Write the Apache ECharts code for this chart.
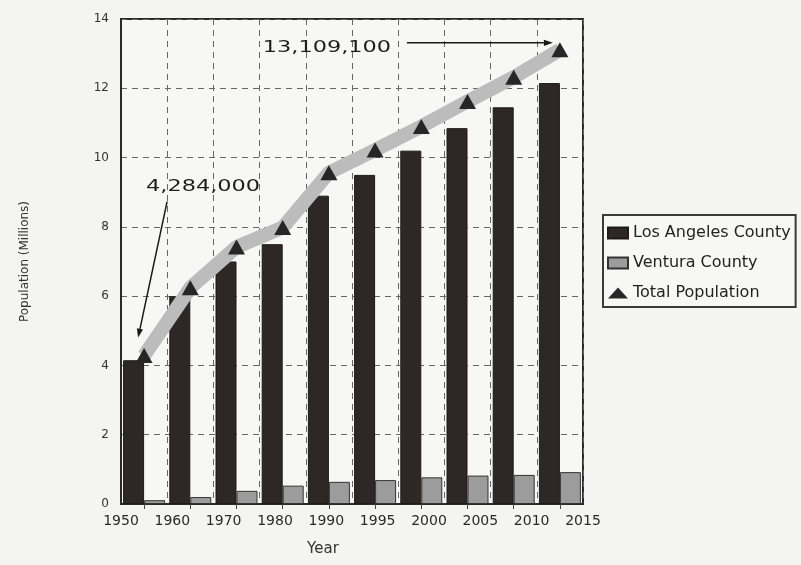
<!DOCTYPE html>
<html><head><meta charset="utf-8">
<script src="https://cdn.jsdelivr.net/npm/echarts@6/dist/echarts.min.js"></script>
<style>html,body{margin:0;padding:0;background:#f4f5f3}#c{width:801px;height:565px}</style>
</head><body><div id="c"></div><script>
const years = ['1950','1960','1970','1980','1990','1995','2000','2005','2010','2015'];
const tickLabels = ['1950','1960','1970','1980','1990','1995','2000','2005','2010','2015'];
const laCounty = [4.15, 6.0, 7.0, 7.5, 8.9, 9.5, 10.2, 10.85, 11.45, 12.15];
const venturaCounty = [0.11, 0.2, 0.38, 0.53, 0.64, 0.69, 0.77, 0.82, 0.84, 0.92];
const totalPop = [4.284, 6.24, 7.42, 7.98, 9.56, 10.22, 10.9, 11.62, 12.32, 13.1091];
const seriesNames = ['Los Angeles County', 'Ventura County', 'Total Population'];
const annotations = ['4,284,000', '13,109,100'];

const FONT = 'DejaVu Sans';
const chart = echarts.init(document.getElementById('c'), null, {renderer: 'canvas'});
const option = {
  backgroundColor: '#f4f5f3',
  animation: false,
  textStyle: {fontFamily: FONT},
  grid: {left: 121, right: 218, top: 19, bottom: 61, show: true, borderColor: '#2a2a2a', borderWidth: 2, backgroundColor: '#f7f8f6'},
  legend: {
    orient: 'vertical', left: 603, top: 215,
    padding: [10, 5, 6, 4], itemGap: 14, itemWidth: 20, itemHeight: 11,
    borderColor: '#3a3a3a', borderWidth: 2, backgroundColor: '#f7f8f6',
    textStyle: {fontFamily: FONT, fontSize: 16, color: '#222', lineHeight: 16},
    data: [
      {name: seriesNames[0], icon: 'rect'},
      {name: seriesNames[1], icon: 'rect'},
      {name: seriesNames[2], icon: 'triangle'}
    ]
  },
  xAxis: [
    {
      type: 'category', data: years, boundaryGap: true,
      axisLine: {show: true, lineStyle: {color: '#2a2a2a', width: 2}},
      axisTick: {show: true, alignWithLabel: true, length: 5, lineStyle: {color: '#444'}},
      axisLabel: {show: false},
      splitLine: {show: true, lineStyle: {color: '#666', type: [6, 5], width: 1}},
      name: 'Year', nameLocation: 'middle', nameGap: 38,
      nameTextStyle: {fontFamily: FONT, fontSize: 15, color: '#333', padding: [0, 58, 0, 0]}
    },
    {
      type: 'category', data: tickLabels, boundaryGap: false, position: 'bottom',
      axisLine: {show: false}, axisTick: {show: false}, splitLine: {show: false},
      axisLabel: {show: true, interval: 0, margin: 10, fontFamily: FONT, fontSize: 14, color: '#2a2a2a', hideOverlap: false}
    }
  ],
  yAxis: {
    type: 'value', min: 0, max: 14, interval: 2,
    axisLine: {show: true, lineStyle: {color: '#2a2a2a', width: 2}},
    axisTick: {show: false},
    axisLabel: {fontFamily: FONT, fontSize: 12, color: '#333', margin: 12},
    splitLine: {show: true, lineStyle: {color: '#666', type: [6, 5], width: 1}},
    name: 'Population (Millions)', nameLocation: 'middle', nameGap: 90,
    nameTextStyle: {fontFamily: FONT, fontSize: 12, color: '#333'}
  },
  series: [
    {
      name: seriesNames[0], type: 'bar', data: laCounty, barWidth: 21, barGap: '0%',
      itemStyle: {color: '#2d2725', borderColor: '#1e1a19', borderWidth: 1}
    },
    {
      name: seriesNames[1], type: 'bar', data: venturaCounty, barWidth: 21,
      itemStyle: {color: '#9c9c9c', borderColor: '#333', borderWidth: 1}
    },
    {
      name: seriesNames[2], type: 'line', data: totalPop, z: 5,
      symbol: 'triangle', symbolSize: [17, 15],
      lineStyle: {color: '#bcbcbc', width: 14},
      itemStyle: {color: '#262626'}
    }
  ]
};
chart.setOption(option);

function arrow(x1, y1, x2, y2, head) {
  const dx = x2 - x1, dy = y2 - y1, L = Math.sqrt(dx*dx + dy*dy);
  const ux = dx / L, uy = dy / L, px = -uy, py = ux;
  const bx = x2 - ux * head, by = y2 - uy * head;
  return [
    {type: 'line', z: 100, shape: {x1: x1, y1: y1, x2: bx, y2: by}, style: {stroke: '#1a1a1a', lineWidth: 1.5}},
    {type: 'polygon', z: 100, shape: {points: [[x2, y2], [bx + px * head * 0.35, by + py * head * 0.35], [bx - px * head * 0.35, by - py * head * 0.35]]}, style: {fill: '#1a1a1a'}}
  ];
}
function label(txt, cx, cy) {
  return {type: 'text', z: 100, x: cx, y: cy, scaleX: 1.4,
    style: {text: txt, x: 0, y: 0, textAlign: 'center', textVerticalAlign: 'middle', font: '16px "DejaVu Sans"', fill: '#1e1e1e'}};
}
const p0 = chart.convertToPixel({xAxisIndex: 0, yAxisIndex: 0}, [years[0], totalPop[0]]);
const p9 = chart.convertToPixel({xAxisIndex: 0, yAxisIndex: 0}, [years[9], totalPop[9]]);
const g = [];
g.push(label(annotations[0], p0[0] + 59, p0[1] - 169));
g.push(...arrow(p0[0] + 23, p0[1] - 154, p0[0] - 6, p0[1] - 18, 9));
g.push(label(annotations[1], p9[0] - 233, p9[1] - 2));
g.push(...arrow(p9[0] - 153, p9[1] - 7, p9[0] - 7, p9[1] - 7, 9));
chart.setOption({graphic: g});
</script></body></html>
